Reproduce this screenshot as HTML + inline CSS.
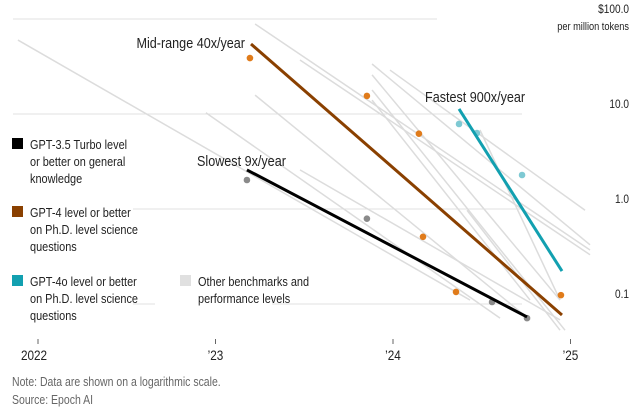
<!DOCTYPE html>
<html><head><meta charset="utf-8"><style>
body{margin:0;background:#fff}
svg{display:block;font-family:"Liberation Sans Narrow","Liberation Sans",sans-serif}
</style></head><body>
<svg id="c" width="637" height="412" viewBox="0 0 637 412"></svg>
<script>
const greyStartYear=[2021.887,2023.223,2023.223,2022.946,2023.476,2023.882,2023.882,2023.882,2023.882,2023.476,2024.49,2023.983,2024.417];
const greyStartPrice=[60,88.5,15.8,10.3,37,33.6,25.8,17.9,14,2.58,6.8,29,0.97];
const greyEndYear=[2024.434,2025.11,2024.772,2024.603,2025.11,2025.11,2024.941,2024.969,2024.772,2024.941,2024.941,2025.082,2024.941];
const greyEndPrice=[0.11,0.37,0.068,0.071,0.33,0.42,0.11,0.053,0.11,0.068,0.11,0.97,0.053];
const trendNames=["gpt35","gpt4","gpt4o"];
const trendStartYear=[2023.177,2023.2,2024.372];
const trendStartPrice=[2.58,54.6,11.3];
const trendEndYear=[2024.755,2024.952,2024.952];
const trendEndPrice=[0.073,0.0766,0.222];
const orangeYear=[2023.194,2023.853,2024.146,2024.169,2024.355,2024.946];
const orangePrice=[38.8,15.5,6.2,0.51,0.134,0.124];
const greyDotYear=[2023.177,2023.853,2024.558,2024.755];
const greyDotPrice=[2.02,0.79,0.105,0.071];
const tealYear=[2024.372,2024.473,2024.727];
const tealPrice=[7.85,6.3,2.28];
const yTicks=[100,10,1,0.1];
const yTickLabels=["$100.0","10.0","1.0","0.1"];
const xTicks=[2022,2023,2024,2025];
const xTickLabels=["2022","’23","’24","’25"];

const svg=document.getElementById('c');
const NS='http://www.w3.org/2000/svg';
const X=t=>38+(t-2022)*177.5;
const Y=v=>19+(2-Math.log10(v))*95;
const SX=0.84;
function mk(tag,attrs,parent){const e=document.createElementNS(NS,tag);for(const k in attrs)e.setAttribute(k,attrs[k]);(parent||svg).appendChild(e);return e;}
function txt(s,x,y,size,fill,anchor){const t=mk('text',{x:0,y:0,'font-size':size,fill:fill,'text-anchor':anchor||'start',transform:'translate('+x+','+y+') scale('+SX+',1)'});t.textContent=s;return t;}
// gridlines
const gridSpans=[[[13,437]],[[13,522]],[[133,522]],[[133,155],[272,522]]];
yTicks.forEach((v,i)=>{gridSpans[i].forEach(s=>{const l=mk('line',{x1:s[0],x2:s[1],y1:Y(v),y2:Y(v),stroke:'#e2e2e2','stroke-width':1});

});
const t=txt(yTickLabels[i],629,Y(v)-6,12,'#222','end');

});
const u=txt('per million tokens',629,30,11,'#222','end');


// x ticks
xTicks.forEach((t,i)=>{const l=mk('line',{x1:X(t),x2:X(t),y1:339,y2:344,stroke:'#666'});


const tx=txt(xTickLabels[i],X(t)-(i==0?4:0),360,14,'#222','middle');

});
// grey lines
greyStartYear.forEach((t,i)=>{const l=mk('line',{x1:X(t),y1:Y(greyStartPrice[i]),x2:X(greyEndYear[i]),y2:Y(greyEndPrice[i]),stroke:'#dcdcdc','stroke-width':1.5});

});
// dots
function dots(ys,ps,col,name){ys.forEach((t,i)=>{const c=mk('circle',{cx:X(t),cy:Y(ps[i]),r:3.3,fill:col});

});}
dots(orangeYear,orangePrice,'#e07b1a','gpt4-model-point');
dots(greyDotYear,greyDotPrice,'#8a8a8a','gpt35-model-point');
dots(tealYear,tealPrice,'#7ec9d3','gpt4o-model-point');
// trend lines
const trendCols=['#000','#8a4000','#12a0b0'];
trendNames.forEach((n,i)=>{const l=mk('line',{x1:X(trendStartYear[i]),y1:Y(trendStartPrice[i]),x2:X(trendEndYear[i]),y2:Y(trendEndPrice[i]),stroke:trendCols[i],'stroke-width':3});

});
// annotations
[["Mid-range 40x/year",245,48,'end'],["Slowest 9x/year",197,166,'start'],["Fastest 900x/year",425,102,'start']].forEach(a=>{const t=txt(a[0],a[1],a[2],15,'#222',a[3]);

});
// legend
const legend=[['#000',138,["GPT-3.5 Turbo level","or better on general","knowledge"],12,30],['#8a4000',206,["GPT-4 level or better","on Ph.D. level science","questions"],12,30],['#12a0b0',275,["GPT-4o level or better","on Ph.D. level science","questions"],12,30],['#e0e0e0',275,["Other benchmarks and","performance levels"],180,198]];
legend.forEach(g=>{const r=mk('rect',{x:g[3],y:g[1],width:11,height:11,fill:g[0]});


g[2].forEach((s,j)=>{const t=txt(s,g[4],g[1]+11+j*17,13,'#222');

});});
// footnotes
[["Note: Data are shown on a logarithmic scale.",386],["Source: Epoch AI",404]].forEach(f=>{const t=txt(f[0],12,f[1],12.5,'#666');

});
</script>
</body></html>
